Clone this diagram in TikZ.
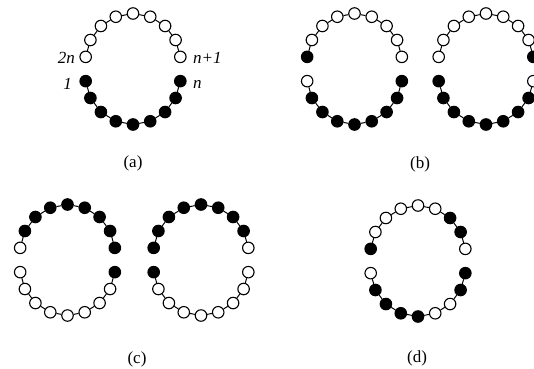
\documentclass[tikz,border=0pt]{standalone}
\usepackage{fontspec}
\setmainfont{Liberation Serif}
\usetikzlibrary{calc}
\colorlet{w}{white}
\colorlet{b}{black}
\tikzset{
  bead/.style={circle, draw=black, fill=#1, line width=1.1pt, minimum size=10pt, inner sep=0pt},
  link/.style={line width=1pt},
  lab/.style={font=\fontsize{17}{19}\selectfont\itshape, inner sep=0pt},
  figcap/.style={font=\fontsize{17}{19}\selectfont, inner sep=0pt}
}
% #1 name, #2 cx, #3 cy, #4 top colours (left to right), #5 bottom colours (left to right)
\newcommand\beadring[5]{%
  \foreach \c [count=\i from 0] in {#4} {
    \pgfmathsetmacro\ang{175-21.25*\i}
    \pgfmathsetmacro\px{#2+47.5*cos(\ang)}
    \pgfmathsetmacro\py{#3-8-47.5*sin(\ang)}
    \node[bead=\c, minimum size=\ifx\c w 10pt\else 11.5pt\fi] (#1t\i) at (\px,\py) {};
  }
  \foreach \c [count=\i from 0] in {#5} {
    \pgfmathsetmacro\ang{185+21.25*\i}
    \pgfmathsetmacro\px{#2+47.5*cos(\ang)}
    \pgfmathsetmacro\py{#3+8-47.5*sin(\ang)}
    \node[bead=\c, minimum size=\ifx\c w 10pt\else 11.5pt\fi] (#1b\i) at (\px,\py) {};
  }
  \foreach \i in {0,...,7} {
    \pgfmathtruncatemacro\j{\i+1}
    \draw[link] (#1t\i) -- (#1t\j);
    \draw[link] (#1b\i) -- (#1b\j);
  }
}
\begin{document}
\begin{tikzpicture}[x=1pt,y=-1pt]
\useasboundingbox (0,0) rectangle (534,368);
% (a)
\beadring{a}{133}{69}{w,w,w,w,w,w,w,w,w}{b,b,b,b,b,b,b,b,b}
\node[lab, anchor=base east] (l2n) at (75,63.5) {2n};
\node[lab, anchor=base west] (ln1) at (193,63.5) {n+1};
\node[lab, anchor=base east] (l1) at (72,89) {1};
\node[lab, anchor=base west] (ln) at (193,88) {n};
\node[figcap] (capa) at (133,163) {(a)};
% (b)
\beadring{bl}{354.5}{69}{b,w,w,w,w,w,w,w,w}{w,b,b,b,b,b,b,b,b}
\beadring{br}{486}{69}{w,w,w,w,w,w,w,w,b}{b,b,b,b,b,b,b,b,w}
\node[figcap] (capb) at (420,164) {(b)};
% (c)
\beadring{cl}{67.5}{260}{w,b,b,b,b,b,b,b,b}{w,w,w,w,w,w,w,w,b}
\beadring{cr}{201}{260}{b,b,b,b,b,b,b,b,w}{b,w,w,w,w,w,w,w,w}
\node[figcap] (capc) at (137,359) {(c)};
% (d)
\beadring{d}{418}{261}{b,w,w,w,w,w,b,b,w}{w,b,b,b,b,w,w,b,b}
\node[figcap] (capd) at (417,358) {(d)};
\end{tikzpicture}
\end{document}
